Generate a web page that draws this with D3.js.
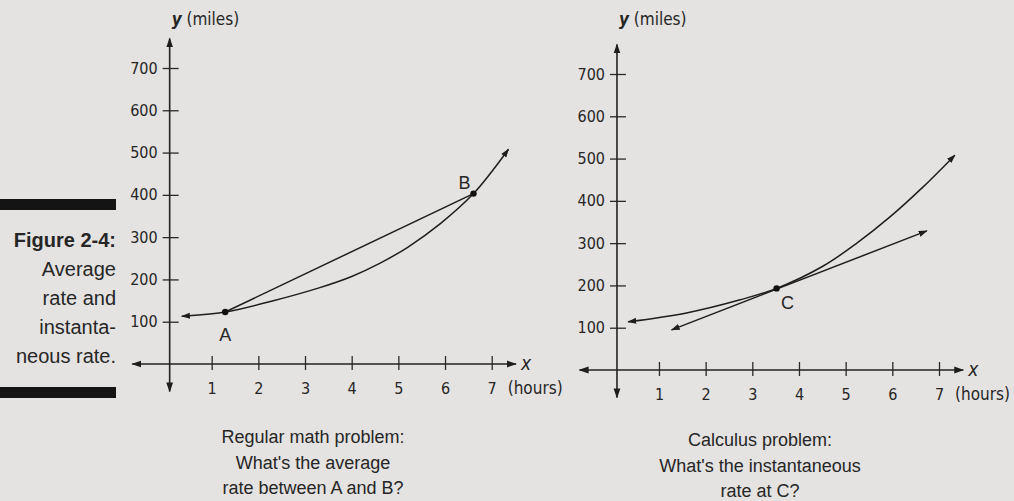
<!DOCTYPE html>
<html>
<head>
<meta charset="utf-8">
<script src="https://cdn.jsdelivr.net/npm/d3@7"></script>
<style>
  body { margin: 0; background: #e4e3e1; }
  svg { display: block; }
  text { fill: #262626; }
  .narrow { font-family: "Liberation Sans Narrow", "DejaVu Sans Condensed", "Liberation Sans", sans-serif; }
  .body { font-family: "Liberation Sans", Arial, sans-serif; }
</style>
</head>
<body>
<svg id="chart"></svg>
<script>
const WIDTH = 1014;
const HEIGHT = 501;

// values
const xTicks = [1, 2, 3, 4, 5, 6, 7];
const yTicks = [100, 200, 300, 400, 500, 600, 700];

// left: average rate between A and B
const avgCurveX = [0.36, 1.29, 2.3, 3.3, 4.0, 4.6, 5.2, 5.9, 6.61, 7.36];
const avgCurveY = [113, 123, 149, 180, 207, 238, 276, 332, 403, 508];
const pointA = [1.29, 123];
const pointB = [6.61, 403];

// right: instantaneous rate at C
const instCurveX = [0.34, 1.59, 2.74, 3.52, 4.52, 5.24, 5.95, 6.66, 7.34];
const instCurveY = [114, 135, 166, 193, 246, 300, 362, 433, 508];
const tangentX = [1.27, 6.74];
const tangentY = [95, 329];
const pointC = [3.52, 193];

const figureLabel = ["Figure 2-4:", "Average", "rate and", "instanta-", "neous rate."];
const leftCaption = ["Regular math problem:", "What's the average", "rate between A and B?"];
const rightCaption = ["Calculus problem:", "What's the instantaneous", "rate at C?"];

// axis extent in data units (arrows go past the ticks)
const X_AXIS_EXTENT = [-0.7, 7.52];
const Y_AXIS_EXTENT = [-65, 770];
const Y_AXIS_AT = 0.1;

const svg = d3.select("#chart")
    .attr("width", WIDTH)
    .attr("height", HEIGHT);

svg.append("rect")
    .attr("width", WIDTH)
    .attr("height", HEIGHT)
    .attr("fill", "#e4e3e1");

const defs = svg.append("defs");
[["arrow", 10], ["arrowSmall", 9]].forEach(([id, size]) => {
    defs.append("marker")
        .attr("id", id)
        .attr("viewBox", "0 0 10 10")
        .attr("refX", 9)
        .attr("refY", 5)
        .attr("markerWidth", size)
        .attr("markerHeight", size)
        .attr("markerUnits", "userSpaceOnUse")
        .attr("orient", "auto-start-reverse")
        .append("path")
        .attr("d", "M0,1.6L10,5L0,8.4z")
        .attr("fill", "#1e1e1e");
});

function drawPanel(p) {
    const x = d3.scaleLinear().domain([0, 7]).range(p.xRange);
    const y = d3.scaleLinear().domain([0, 700]).range(p.yRange);
    const g = svg.append("g");
    const x0 = x(Y_AXIS_AT);
    const y0 = y(0);

    // x axis with crossing ticks
    g.append("g")
        .attr("transform", `translate(0,${y0})`)
        .call(d3.axisBottom(x).tickValues(xTicks).tickFormat(d3.format("d"))
            .tickSize(6).tickPadding(13))
        .call(a => a.select(".domain").remove())
        .call(a => a.selectAll(".tick line").attr("y1", -8).attr("y2", 6)
            .attr("stroke", "#2a2a2a").attr("stroke-width", 1.3))
        .call(a => a.selectAll(".tick text").attr("class", "narrow")
            .attr("font-size", 16).attr("fill", "#262626"));

    // y axis with crossing ticks
    g.append("g")
        .attr("transform", `translate(${x0},0)`)
        .call(d3.axisLeft(y).tickValues(yTicks).tickSize(7).tickPadding(5))
        .call(a => a.select(".domain").remove())
        .call(a => a.selectAll(".tick line").attr("x1", -7).attr("x2", 9)
            .attr("stroke", "#2a2a2a").attr("stroke-width", 1.3))
        .call(a => a.selectAll(".tick text").attr("class", "narrow")
            .attr("font-size", 16).attr("fill", "#262626"));

    g.append("line")
        .attr("x1", x(X_AXIS_EXTENT[0])).attr("x2", x(X_AXIS_EXTENT[1]))
        .attr("y1", y0).attr("y2", y0)
        .attr("stroke", "#222").attr("stroke-width", 1.6)
        .attr("marker-start", "url(#arrow)")
        .attr("marker-end", "url(#arrow)");

    g.append("line")
        .attr("x1", x0).attr("x2", x0)
        .attr("y1", y(Y_AXIS_EXTENT[0])).attr("y2", y(Y_AXIS_EXTENT[1]))
        .attr("stroke", "#222").attr("stroke-width", 1.6)
        .attr("marker-start", "url(#arrow)")
        .attr("marker-end", "url(#arrow)");

    // axis titles
    const yt = g.append("text").attr("class", "narrow").attr("font-size", 17)
        .attr("x", x0 + 2).attr("y", p.yTitleY);
    yt.append("tspan").attr("font-style", "italic").attr("font-weight", "bold").text("y");
    yt.append("tspan").text(" (miles)");

    g.append("text").attr("class", "narrow").attr("font-size", 19).attr("font-style", "italic")
        .attr("x", x(X_AXIS_EXTENT[1]) + 5).attr("y", y0 + 6).text("x");
    g.append("text").attr("class", "narrow").attr("font-size", 17)
        .attr("x", x(7) + 16).attr("y", y0 + p.hoursDy).text("(hours)");

    const line = d3.line().x(d => x(d[0])).y(d => y(d[1]));

    g.append("path")
        .datum(d3.zip(p.curveX, p.curveY))
        .attr("d", line.curve(d3.curveCatmullRom.alpha(0.5)))
        .attr("fill", "none").attr("stroke", "#1e1e1e").attr("stroke-width", 1.5)
        .attr("marker-start", "url(#arrowSmall)")
        .attr("marker-end", "url(#arrowSmall)");

    g.append("path")
        .datum(d3.zip(p.lineX, p.lineY))
        .attr("d", line.curve(d3.curveLinear))
        .attr("fill", "none").attr("stroke", "#1e1e1e").attr("stroke-width", 1.5)
        .attr("marker-start", p.lineArrows ? "url(#arrowSmall)" : null)
        .attr("marker-end", p.lineArrows ? "url(#arrowSmall)" : null);

    g.selectAll("circle.pt")
        .data(p.points)
        .join("circle")
        .attr("class", "pt")
        .attr("cx", d => x(d.at[0]))
        .attr("cy", d => y(d.at[1]))
        .attr("r", 3.2)
        .attr("fill", "#111");

    g.selectAll("text.pt")
        .data(p.points)
        .join("text")
        .attr("class", "pt body")
        .attr("font-size", 18)
        .attr("text-anchor", "middle")
        .attr("x", d => x(d.at[0]) + d.dx)
        .attr("y", d => y(d.at[1]) + d.dy)
        .text(d => d.name);

    g.selectAll("text.cap")
        .data(p.caption)
        .join("text")
        .attr("class", "cap body")
        .attr("font-size", 18)
        .attr("text-anchor", "middle")
        .attr("x", p.captionX)
        .attr("y", (d, i) => p.captionY + i * 25.5)
        .text(d => d);
}

drawPanel({
    xRange: [165, 491.7], yRange: [364, 68],
    yTitleY: 25, hoursDy: 30,
    curveX: avgCurveX, curveY: avgCurveY,
    lineX: [pointA[0], pointB[0]], lineY: [pointA[1], pointB[1]], lineArrows: false,
    points: [{ name: "A", at: pointA, dx: 0, dy: 29 }, { name: "B", at: pointB, dx: -9, dy: -5 }],
    caption: leftCaption, captionX: 313, captionY: 443
});

drawPanel({
    xRange: [612.3, 939], yRange: [370, 74],
    yTitleY: 25, hoursDy: 30,
    curveX: instCurveX, curveY: instCurveY,
    lineX: tangentX, lineY: tangentY, lineArrows: true,
    points: [{ name: "C", at: pointC, dx: 11, dy: 21 }],
    caption: rightCaption, captionX: 760, captionY: 446
});

// figure label on the left
svg.selectAll("text.fig")
    .data(figureLabel)
    .join("text")
    .attr("class", "fig body")
    .attr("font-size", 20)
    .attr("font-weight", (d, i) => i === 0 ? "bold" : "normal")
    .attr("text-anchor", "end")
    .attr("x", 116)
    .attr("y", (d, i) => 247 + i * 29)
    .text(d => d);

svg.selectAll("rect.bar")
    .data([199, 387])
    .join("rect")
    .attr("class", "bar")
    .attr("x", 0)
    .attr("y", d => d)
    .attr("width", 116)
    .attr("height", 11)
    .attr("fill", "#141414");
</script>
</body>
</html>
